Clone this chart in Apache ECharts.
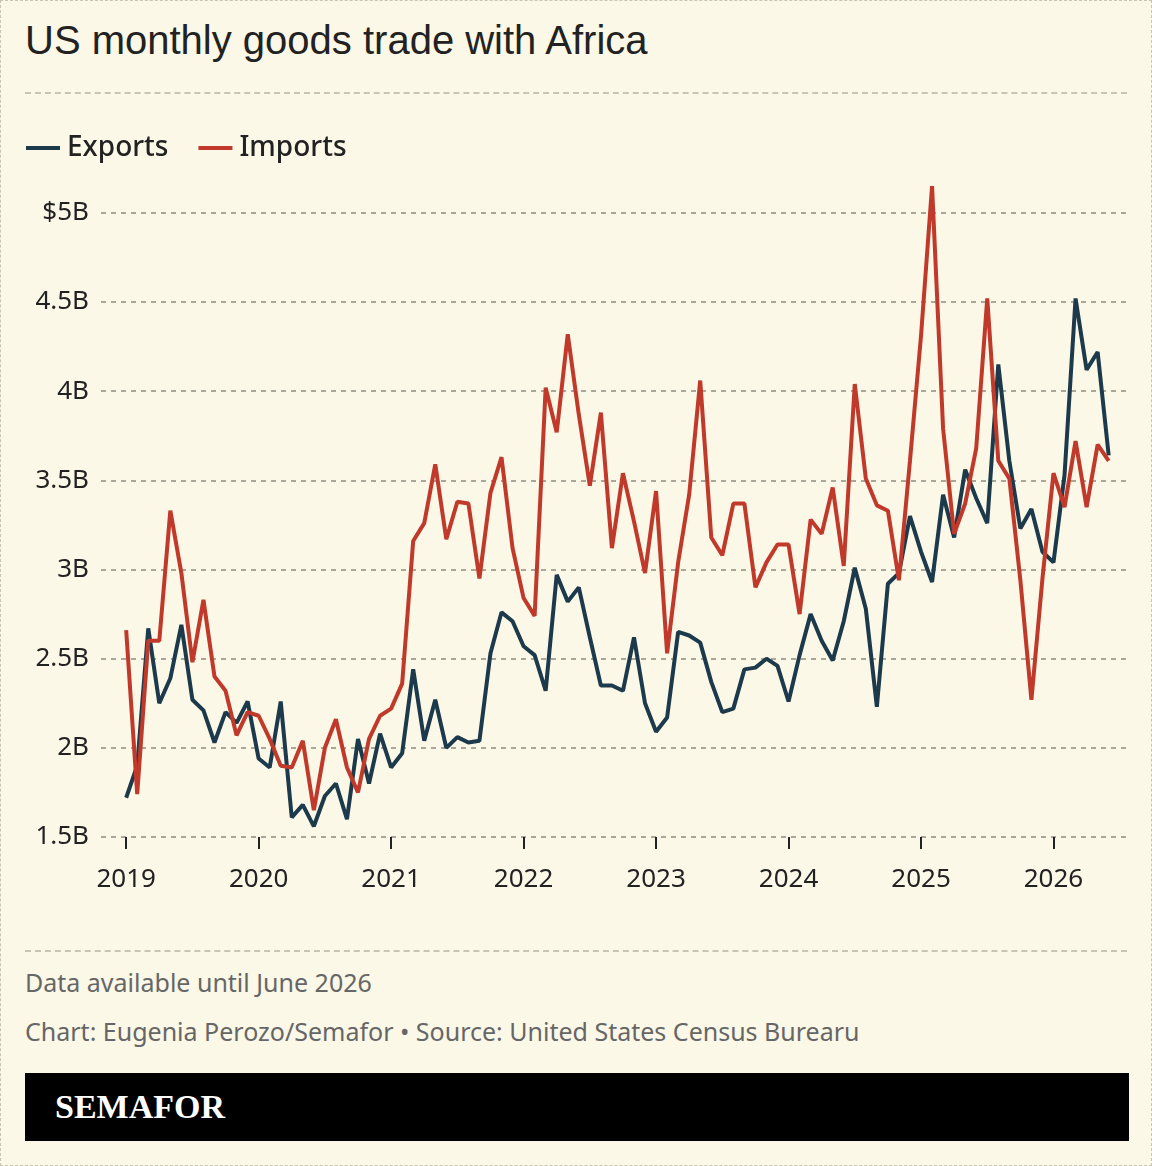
<!DOCTYPE html>
<html>
<head>
<meta charset="utf-8">
<script src="https://cdn.jsdelivr.net/npm/echarts@6/dist/echarts.min.js"></script>
<style>
  body { margin: 0; background: #fbf8e7; }
  #page { position: relative; width: 1150px; height: 1164px; border: 1px dashed #c8c5b2; background: #fbf8e7; font-family: 'Noto Sans', sans-serif; }
  #title { position: absolute; left: 24px; top: 17px; font-family: 'Liberation Sans', Arial, sans-serif; font-size: 40px; color: #222; }
  .sep { position: absolute; left: 24px; right: 24px; border-top: 2px dashed #c8c5b2; }
  #chart { position: absolute; left: 0; top: 100px; width: 1150px; height: 820px; }
  .note { position: absolute; left: 24px; font-size: 25px; color: #666; }
  #band { position: absolute; left: 24px; right: 22px; top: 1072px; height: 68px; background: #000; color: #fff; font-family: 'Liberation Serif', serif; font-weight: bold; font-size: 34px; line-height: 68px; padding-left: 30px; box-sizing: border-box; }
</style>
</head>
<body>
<div id="page">
  <div id="title">US monthly goods trade with Africa</div>
  <div class="sep" style="top:91px"></div>
  <div id="chart"></div>
  <div class="sep" style="top:949px"></div>
  <div class="note" style="top:964px">Data available until June 2026</div>
  <div class="note" style="top:1013px">Chart: Eugenia Perozo/Semafor • Source: United States Census Burearu</div>
  <div id="band">SEMAFOR</div>
</div>
<script>
const startYear = 2019;
const yearTicks = [2019, 2020, 2021, 2022, 2023, 2024, 2025, 2026];
const exportsB = [
  1.72, 1.90, 2.67, 2.25, 2.39, 2.69, 2.27, 2.21, 2.03, 2.20, 2.14, 2.26,
  1.94, 1.89, 2.26, 1.61, 1.68, 1.56, 1.73, 1.80, 1.60, 2.05, 1.80, 2.08,
  1.89, 1.97, 2.44, 2.04, 2.27, 2.00, 2.06, 2.03, 2.04, 2.53, 2.76, 2.71,
  2.57, 2.52, 2.32, 2.97, 2.82, 2.90, 2.62, 2.35, 2.35, 2.32, 2.62, 2.25,
  2.09, 2.17, 2.65, 2.63, 2.59, 2.37, 2.20, 2.22, 2.44, 2.45, 2.50, 2.46,
  2.26, 2.52, 2.75, 2.60, 2.49, 2.71, 3.01, 2.78, 2.23, 2.92, 2.98, 3.30,
  3.10, 2.93, 3.42, 3.18, 3.56, 3.40, 3.26, 4.15, 3.61, 3.23, 3.34, 3.10,
  3.04, 3.53, 4.52, 4.12, 4.22, 3.64
];
const importsB = [
  2.66, 1.74, 2.60, 2.60, 3.33, 2.98, 2.48, 2.83, 2.40, 2.32, 2.07, 2.20,
  2.18, 2.05, 1.90, 1.89, 2.04, 1.65, 2.00, 2.16, 1.89, 1.75, 2.05, 2.18,
  2.22, 2.36, 3.16, 3.26, 3.59, 3.17, 3.38, 3.37, 2.95, 3.43, 3.63, 3.12,
  2.84, 2.74, 4.02, 3.77, 4.32, 3.87, 3.47, 3.88, 3.12, 3.54, 3.27, 2.98,
  3.44, 2.53, 3.04, 3.42, 4.06, 3.18, 3.08, 3.37, 3.37, 2.90, 3.04, 3.14,
  3.14, 2.75, 3.28, 3.20, 3.46, 3.02, 4.04, 3.51, 3.36, 3.33, 2.94, 3.61,
  4.31, 5.15, 3.79, 3.20, 3.37, 3.68, 4.52, 3.61, 3.51, 2.94, 2.27, 2.95,
  3.54, 3.35, 3.72, 3.35, 3.70, 3.61
];

const toPoints = arr => arr.map((v, i) => [startYear + i / 12, v]);

const chart = echarts.init(document.getElementById('chart'));
const axisFont = { fontFamily: 'Noto Sans', fontSize: 26, color: '#222' };
chart.setOption({
  animation: false,
  legend: {
    left: 20, top: 28,
    itemWidth: 34, itemHeight: 4, itemGap: 30,
    icon: 'rect',
    textStyle: { fontFamily: 'Noto Sans', fontSize: 28, fontWeight: 500, color: '#222', padding: [0, 0, 0, 2] },
    data: ['Exports', 'Imports']
  },
  grid: { left: 100, right: 22, top: 70, bottom: 84 },
  xAxis: {
    type: 'value',
    min: 2018.81, max: 2026.57,
    axisLine: { show: false },
    splitLine: { show: false },
    axisTick: { show: true, customValues: yearTicks, length: 12, lineStyle: { color: '#222', width: 2 } },
    axisLabel: { ...axisFont, margin: 30, customValues: yearTicks, formatter: v => String(Math.round(v)) }
  },
  yAxis: {
    type: 'value',
    min: 1.5, max: 5.235, interval: 0.5,
    axisLine: { show: false },
    axisTick: { show: false },
    splitLine: { showMaxLine: false, lineStyle: { type: [5, 5], color: '#aaa79a', width: 2 } },
    axisLabel: {
      ...axisFont, margin: 12, showMaxLabel: false,
      formatter: v => (Math.abs(v - 5) < 1e-6 ? '$5B' : (+v.toFixed(1)) + 'B')
    }
  },
  series: [
    { name: 'Exports', type: 'line', data: toPoints(exportsB), showSymbol: false,
      lineStyle: { color: '#1c3a4b', width: 4 }, itemStyle: { color: '#1c3a4b' } },
    { name: 'Imports', type: 'line', data: toPoints(importsB), showSymbol: false,
      lineStyle: { color: '#c0392b', width: 4 }, itemStyle: { color: '#c0392b' } }
  ]
});
</script>
</body>
</html>
